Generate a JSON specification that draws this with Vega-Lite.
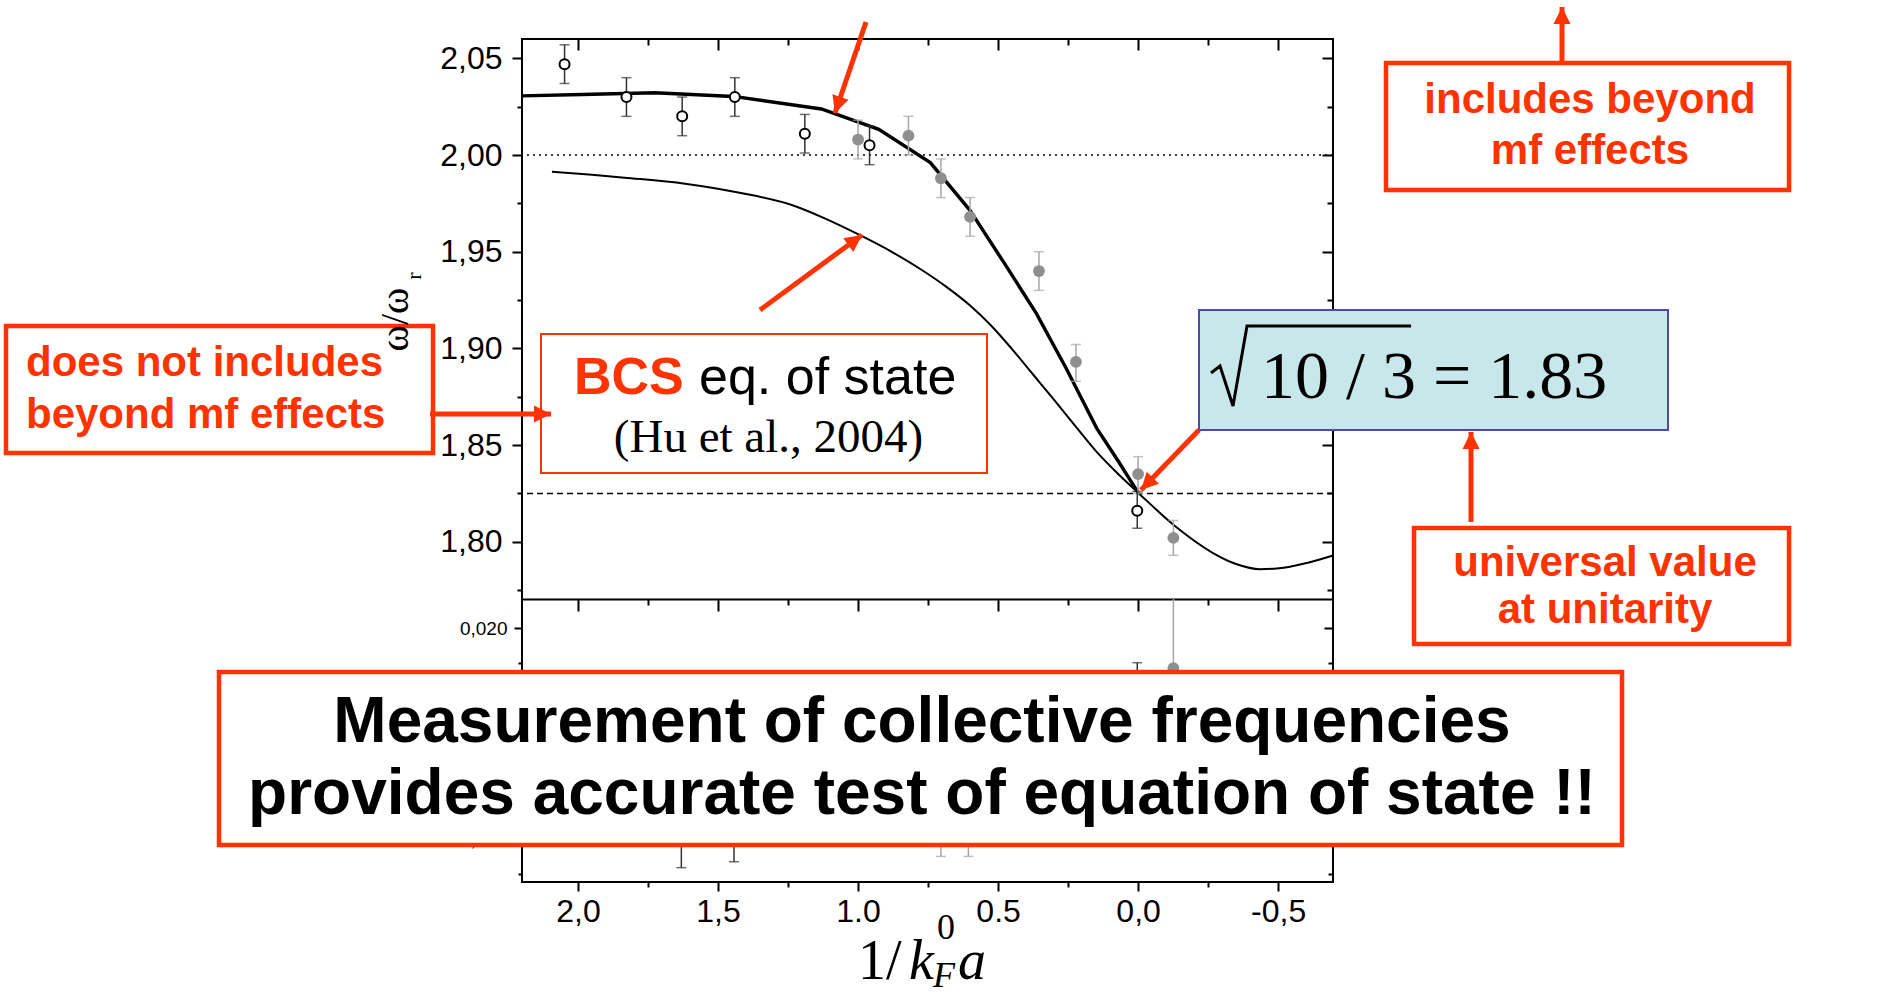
{
  "$schema": "https://vega.github.io/schema/vega-lite/v6.json",
  "width": 811,
  "height": 843,
  "autosize": {"type": "none"},
  "padding": {"left": 522, "top": 39, "right": 550, "bottom": 120},
  "background": "white",
  "config": {"view": {"stroke": "black", "strokeWidth": 2}, "axis": {"grid": false}},
  "datasets": {
    "refs": [{"y": 2.0, "kind": "dotted"}, {"y": 1.825, "kind": "dashed"}],
    "bcs": [
      {"x": 2.093, "y": 1.9914}, {"x": 1.95, "y": 1.9898}, {"x": 1.834, "y": 1.9883}, {"x": 1.618, "y": 1.9852},
      {"x": 1.423, "y": 1.9805}, {"x": 1.229, "y": 1.9738}, {"x": 1.121, "y": 1.9674}, {"x": 0.991, "y": 1.9584},
      {"x": 0.883, "y": 1.9502}, {"x": 0.775, "y": 1.9408}, {"x": 0.688, "y": 1.9322}, {"x": 0.601, "y": 1.9223},
      {"x": 0.526, "y": 1.912}, {"x": 0.451, "y": 1.8998}, {"x": 0.375, "y": 1.8865}, {"x": 0.299, "y": 1.8732},
      {"x": 0.224, "y": 1.8598}, {"x": 0.148, "y": 1.8465}, {"x": 0.072, "y": 1.8352}, {"x": 0.0, "y": 1.8254},
      {"x": -0.136, "y": 1.8076}, {"x": -0.266, "y": 1.7943}, {"x": -0.35, "y": 1.7885}, {"x": -0.435, "y": 1.7858},
      {"x": -0.52, "y": 1.7866}, {"x": -0.61, "y": 1.7893}, {"x": -0.696, "y": 1.7929}
    ],
    "qmc": [
      {"x": 2.2, "y": 2.0306}, {"x": 1.985, "y": 2.0313}, {"x": 1.726, "y": 2.0322}, {"x": 1.445, "y": 2.0303},
      {"x": 1.131, "y": 2.0238}, {"x": 0.926, "y": 2.0133}, {"x": 0.742, "y": 1.9961}, {"x": 0.601, "y": 1.9715},
      {"x": 0.472, "y": 1.9428}, {"x": 0.364, "y": 1.9182}, {"x": 0.256, "y": 1.8895}, {"x": 0.148, "y": 1.8588},
      {"x": 0.07, "y": 1.8415}, {"x": 0.0, "y": 1.8254}
    ],
    "open": [
      {"x": 2.048, "y": 2.047, "lo": 2.037, "hi": 2.057},
      {"x": 1.827, "y": 2.03, "lo": 2.02, "hi": 2.04},
      {"x": 1.628, "y": 2.02, "lo": 2.01, "hi": 2.03},
      {"x": 1.44, "y": 2.03, "lo": 2.02, "hi": 2.04},
      {"x": 1.19, "y": 2.011, "lo": 2.001, "hi": 2.021},
      {"x": 0.959, "y": 2.005, "lo": 1.995, "hi": 2.015},
      {"x": 0.003, "y": 1.816, "lo": 1.807, "hi": 1.826}
    ],
    "filled": [
      {"x": 1.0, "y": 2.008, "lo": 1.998, "hi": 2.018},
      {"x": 0.82, "y": 2.01, "lo": 2.0, "hi": 2.02},
      {"x": 0.704, "y": 1.988, "lo": 1.978, "hi": 1.998},
      {"x": 0.6, "y": 1.968, "lo": 1.958, "hi": 1.978},
      {"x": 0.354, "y": 1.94, "lo": 1.93, "hi": 1.95},
      {"x": 0.222, "y": 1.893, "lo": 1.883, "hi": 1.902},
      {"x": 0.0, "y": 1.835, "lo": 1.825, "hi": 1.844},
      {"x": -0.126, "y": 1.802, "lo": 1.793, "hi": 1.811}
    ],
    "lowerOpen": [
      {"x": 1.631, "y": 0.0062, "lo": 0.00297, "hi": 0.0095},
      {"x": 1.443, "y": 0.0066, "lo": 0.00339, "hi": 0.0098},
      {"x": 0.003, "y": 0.015, "lo": 0.0125, "hi": 0.01754}
    ],
    "lowerFilled": [
      {"x": 0.704, "y": 0.006, "lo": 0.00377, "hi": 0.0083},
      {"x": 0.606, "y": 0.006, "lo": 0.00377, "hi": 0.0083},
      {"x": -0.126, "y": 0.01716, "lo": 0.0084, "hi": 0.02207}
    ],
    "boxes": [
      {"x": 4.0426, "x2": 2.5178, "y": 1.91159, "y2": 1.84592, "role": "note"},
      {"x": 2.1322, "x2": 0.5395, "y": 1.90746, "y2": 1.83558, "role": "source"},
      {"x": -0.2175, "x2": -1.8923, "y": 1.91987, "y2": 1.85781, "role": "formula"},
      {"x": -0.8853, "x2": -2.3244, "y": 2.04759, "y2": 1.98192, "role": "note"},
      {"x": -0.9853, "x2": -2.3244, "y": 1.80714, "y2": 1.74715, "role": "note"},
      {"x": 3.282, "x2": -1.728, "y": 1.73268, "y2": 1.64322, "role": "note"}
    ],
    "arrows": [
      {"x": 0.9716, "y": 2.06879, "x2": 1.0823, "y2": 2.02173},
      {"x": 1.3501, "y": 1.91987, "x2": 0.9859, "y2": 1.95865},
      {"x": 2.5285, "y": 1.86609, "x2": 2.0964, "y2": 1.86609},
      {"x": -0.2175, "y": 1.85781, "x2": -0.0104, "y2": 1.82679},
      {"x": -1.1888, "y": 1.81024, "x2": -1.1888, "y2": 1.85678},
      {"x": -1.5138, "y": 2.04811, "x2": -1.5138, "y2": 2.07655}
    ],
    "radical": [
      {"step": 1, "x": -0.2604, "y": 1.88729},
      {"step": 2, "x": -0.2925, "y": 1.89091},
      {"step": 3, "x": -0.3389, "y": 1.87022},
      {"step": 4, "x": -0.3889, "y": 1.91159},
      {"step": 5, "x": -0.9746, "y": 1.91159}
    ],
    "notes": [
      {"x": 3.9712, "y": 1.88574, "text": "does not includes", "role": "noteL"},
      {"x": 3.9712, "y": 1.85885, "text": "beyond mf effects", "role": "noteL"},
      {"x": -1.6137, "y": 2.02173, "text": "includes beyond", "role": "note"},
      {"x": -1.6137, "y": 1.99536, "text": "mf effects", "role": "note"},
      {"x": -1.6673, "y": 1.78232, "text": "universal value", "role": "note"},
      {"x": -1.6673, "y": 1.75801, "text": "at unitarity", "role": "note"},
      {"x": 0.7716, "y": 1.69648, "text": "Measurement of collective frequencies", "role": "summary"},
      {"x": 0.7716, "y": 1.65925, "text": "provides accurate test of  equation of state !!", "role": "summary"},
      {"x": 2.0143, "y": 1.87643, "text": "BCS", "role": "bcs"},
      {"x": 1.5679, "y": 1.87643, "text": "eq. of state", "role": "eos"},
      {"x": 1.3198, "y": 1.84644, "text": "(Hu et al., 2004)", "role": "ref"},
      {"x": -0.4389, "y": 1.87436, "text": "10 / 3 = 1.83", "role": "formula"},
      {"x": 0.9998, "y": 1.57393, "text": "1/", "role": "xt"},
      {"x": 0.8181, "y": 1.57393, "text": "k", "role": "xti"},
      {"x": 0.6431, "y": 1.57393, "text": "a", "role": "xti"},
      {"x": 0.7181, "y": 1.59461, "text": "0", "role": "xts"},
      {"x": 0.7324, "y": 1.56979, "text": "F", "role": "xtsi"},
      {"x": 2.5857, "y": 1.93745, "text": "r", "role": "sub"}
    ]
  },
  "layer": [
    {
      "layer": [
        {
          "data": {"name": "lowerOpen"},
          "mark": {"type": "rule", "color": "#333333", "strokeWidth": 1.5},
          "encoding": {
            "x": {"field": "x", "type": "quantitative", "scale": {"domain": [-0.696, 2.2], "reverse": true, "nice": false, "zero": false},
              "axis": {"orient": "bottom", "values": [-0.5, -0.25, 0, 0.25, 0.5, 0.75, 1, 1.25, 1.5, 1.75, 2], "domain": false, "grid": false,
                "tickSize": {"condition": {"test": "abs(datum.value*2-round(datum.value*2))<1e-6", "value": 9}, "value": 5},
                "tickWidth": 2, "tickColor": "black",
                "labelExpr": "datum.value == 1 ? '1.0' : datum.value == 0.5 ? '0.5' : abs(datum.value*2-round(datum.value*2))<1e-6 ? replace(replace(format(datum.value, '.1f'), '.', ','), '−', '-') : ''",
                "labelFont": "Liberation Sans", "labelFontSize": 32, "labelColor": "black", "labelPadding": 5,
                "labelOverlap": false, "labelFlush": false, "labelBound": false, "title": null}},
            "y": {"field": "lo", "type": "quantitative", "scale": {"domain": [0.00195, 0.02207], "range": [843, 560], "nice": false, "zero": false},
              "axis": {"orient": "left", "values": [0.0025, 0.005, 0.0075, 0.01, 0.0125, 0.015, 0.0175, 0.02], "domain": false, "grid": false,
                "tickSize": {"condition": {"test": "abs(datum.value*200-round(datum.value*200))<1e-6", "value": 8}, "value": 4},
                "tickWidth": 2, "tickColor": "black",
                "labelExpr": "abs(datum.value-0.02)<1e-6 || abs(datum.value-0.005)<1e-6 ? replace(format(datum.value, '.3f'), '.', ',') : ''",
                "labelFont": "Liberation Sans", "labelFontSize": 19, "labelColor": "black", "labelPadding": 7,
                "labelOverlap": false, "labelFlush": false, "labelBound": false, "title": null}},
            "y2": {"field": "hi"}
          }
        },
        {
          "data": {"name": "lowerOpen"},
          "mark": {"type": "tick", "orient": "horizontal", "size": 10, "thickness": 1.5, "color": "#333333"},
          "encoding": {
            "x": {"field": "x", "type": "quantitative", "scale": {"domain": [-0.696, 2.2], "reverse": true, "nice": false, "zero": false},
              "axis": {"orient": "top", "offset": -560, "values": [-0.5, -0.25, 0, 0.25, 0.5, 0.75, 1, 1.25, 1.5, 1.75, 2],
                "domain": true, "domainColor": "black", "domainWidth": 2, "grid": false, "labels": false,
                "tickSize": {"condition": {"test": "abs(datum.value*2-round(datum.value*2))<1e-6", "value": -12}, "value": -6},
                "tickWidth": 2, "tickColor": "black", "title": null}},
            "y": {"field": "lo", "type": "quantitative", "scale": {"domain": [0.00195, 0.02207], "range": [843, 560], "nice": false, "zero": false},
              "axis": {"orient": "right", "values": [0.0025, 0.005, 0.0075, 0.01, 0.0125, 0.015, 0.0175, 0.02], "domain": false, "grid": false, "labels": false,
                "tickSize": {"condition": {"test": "abs(datum.value*200-round(datum.value*200))<1e-6", "value": -9}, "value": -5},
                "tickWidth": 2, "tickColor": "black", "title": null}}
          }
        },
        {
          "data": {"name": "lowerOpen"},
          "mark": {"type": "tick", "orient": "horizontal", "size": 10, "thickness": 1.5, "color": "#333333"},
          "encoding": {
            "x": {"field": "x", "type": "quantitative", "scale": {"domain": [-0.696, 2.2], "reverse": true, "nice": false, "zero": false}, "axis": null},
            "y": {"field": "hi", "type": "quantitative", "scale": {"domain": [0.00195, 0.02207], "range": [843, 560], "nice": false, "zero": false}, "axis": null}
          }
        },
        {
          "data": {"name": "lowerOpen"},
          "mark": {"type": "point", "shape": "circle", "filled": true, "fill": "white", "stroke": "black", "strokeWidth": 2, "size": 100, "opacity": 1},
          "encoding": {
            "x": {"field": "x", "type": "quantitative", "scale": {"domain": [-0.696, 2.2], "reverse": true, "nice": false, "zero": false}, "axis": null},
            "y": {"field": "y", "type": "quantitative", "scale": {"domain": [0.00195, 0.02207], "range": [843, 560], "nice": false, "zero": false}, "axis": null}
          }
        },
        {
          "data": {"name": "lowerFilled"},
          "mark": {"type": "rule", "color": "#a6a6a6", "strokeWidth": 1.5},
          "encoding": {
            "x": {"field": "x", "type": "quantitative", "scale": {"domain": [-0.696, 2.2], "reverse": true, "nice": false, "zero": false}, "axis": null},
            "y": {"field": "lo", "type": "quantitative", "scale": {"domain": [0.00195, 0.02207], "range": [843, 560], "nice": false, "zero": false}, "axis": null},
            "y2": {"field": "hi"}
          }
        },
        {
          "data": {"name": "lowerFilled"},
          "mark": {"type": "tick", "orient": "horizontal", "size": 10, "thickness": 1.5, "color": "#a6a6a6"},
          "encoding": {
            "x": {"field": "x", "type": "quantitative", "scale": {"domain": [-0.696, 2.2], "reverse": true, "nice": false, "zero": false}, "axis": null},
            "y": {"field": "lo", "type": "quantitative", "scale": {"domain": [0.00195, 0.02207], "range": [843, 560], "nice": false, "zero": false}, "axis": null}
          }
        },
        {
          "data": {"name": "lowerFilled"},
          "mark": {"type": "point", "shape": "circle", "filled": true, "color": "#8f8f8f", "size": 140, "opacity": 1},
          "encoding": {
            "x": {"field": "x", "type": "quantitative", "scale": {"domain": [-0.696, 2.2], "reverse": true, "nice": false, "zero": false}, "axis": null},
            "y": {"field": "y", "type": "quantitative", "scale": {"domain": [0.00195, 0.02207], "range": [843, 560], "nice": false, "zero": false}, "axis": null}
          }
        }
      ],
      "resolve": {"axis": {"x": "independent", "y": "independent"}}
    },
    {
      "layer": [
        {
          "data": {"name": "refs"},
          "transform": [{"filter": "datum.kind === 'dotted'"}],
          "mark": {"type": "rule", "color": "black", "strokeWidth": 1.5, "strokeDash": [2, 4]},
          "encoding": {
            "y": {"field": "y", "type": "quantitative", "scale": {"domain": [1.7704, 2.06], "range": [560, 0], "nice": false, "zero": false},
              "axis": {"orient": "left", "values": [1.775, 1.8, 1.825, 1.85, 1.875, 1.9, 1.925, 1.95, 1.975, 2.0, 2.025, 2.05], "domain": false, "grid": false,
                "tickSize": {"condition": {"test": "abs(datum.value*20-round(datum.value*20))<1e-6", "value": 10}, "value": 5},
                "tickWidth": 2, "tickColor": "black",
                "labelExpr": "abs(datum.value*20-round(datum.value*20))<1e-6 ? replace(format(datum.value, '.2f'), '.', ',') : ''",
                "labelFont": "Liberation Sans", "labelFontSize": 32, "labelColor": "black", "labelPadding": 10,
                "labelOverlap": false, "labelFlush": false, "labelBound": false,
                "title": "ω/ω", "titleFont": "Liberation Serif", "titleFontSize": 40, "titleFontWeight": "normal", "titleColor": "black",
                "titleAngle": 270, "titleX": -127, "titleAlign": "center", "titleBaseline": "middle", "zindex": 1}}
          }
        },
        {
          "data": {"name": "refs"},
          "transform": [{"filter": "datum.kind === 'dashed'"}],
          "mark": {"type": "rule", "color": "black", "strokeWidth": 1.5, "strokeDash": [6, 4]},
          "encoding": {
            "y": {"field": "y", "type": "quantitative", "scale": {"domain": [1.7704, 2.06], "range": [560, 0], "nice": false, "zero": false},
              "axis": {"orient": "right", "values": [1.775, 1.8, 1.825, 1.85, 1.875, 1.9, 1.925, 1.95, 1.975, 2.0, 2.025, 2.05], "domain": false, "grid": false, "labels": false,
                "tickSize": {"condition": {"test": "abs(datum.value*20-round(datum.value*20))<1e-6", "value": -11}, "value": -6},
                "tickWidth": 2, "tickColor": "black", "title": null}}
          }
        },
        {
          "data": {"name": "bcs"},
          "mark": {"type": "line", "interpolate": "monotone", "color": "black", "strokeWidth": 2},
          "encoding": {
            "x": {"field": "x", "type": "quantitative", "scale": {"domain": [-0.696, 2.2], "reverse": true, "nice": false, "zero": false},
              "axis": {"orient": "top", "values": [-0.5, -0.25, 0, 0.25, 0.5, 0.75, 1, 1.25, 1.5, 1.75, 2], "domain": false, "grid": false, "labels": false,
                "tickSize": {"condition": {"test": "abs(datum.value*2-round(datum.value*2))<1e-6", "value": -11}, "value": -6},
                "tickWidth": 2, "tickColor": "black", "title": null}},
            "y": {"field": "y", "type": "quantitative", "scale": {"domain": [1.7704, 2.06], "range": [560, 0], "nice": false, "zero": false}, "axis": null}
          }
        },
        {
          "data": {"name": "qmc"},
          "mark": {"type": "line", "color": "black", "strokeWidth": 3.4},
          "encoding": {
            "x": {"field": "x", "type": "quantitative", "scale": {"domain": [-0.696, 2.2], "reverse": true, "nice": false, "zero": false}, "axis": null},
            "y": {"field": "y", "type": "quantitative", "scale": {"domain": [1.7704, 2.06], "range": [560, 0], "nice": false, "zero": false}, "axis": null}
          }
        },
        {
          "data": {"name": "filled"},
          "mark": {"type": "rule", "color": "#a6a6a6", "strokeWidth": 1.5},
          "encoding": {
            "x": {"field": "x", "type": "quantitative", "scale": {"domain": [-0.696, 2.2], "reverse": true, "nice": false, "zero": false}, "axis": null},
            "y": {"field": "lo", "type": "quantitative", "scale": {"domain": [1.7704, 2.06], "range": [560, 0], "nice": false, "zero": false}, "axis": null},
            "y2": {"field": "hi"}
          }
        },
        {
          "data": {"name": "filled"},
          "mark": {"type": "tick", "orient": "horizontal", "size": 10, "thickness": 1.5, "color": "#a6a6a6"},
          "encoding": {
            "x": {"field": "x", "type": "quantitative", "scale": {"domain": [-0.696, 2.2], "reverse": true, "nice": false, "zero": false}, "axis": null},
            "y": {"field": "lo", "type": "quantitative", "scale": {"domain": [1.7704, 2.06], "range": [560, 0], "nice": false, "zero": false}, "axis": null}
          }
        },
        {
          "data": {"name": "filled"},
          "mark": {"type": "tick", "orient": "horizontal", "size": 10, "thickness": 1.5, "color": "#a6a6a6"},
          "encoding": {
            "x": {"field": "x", "type": "quantitative", "scale": {"domain": [-0.696, 2.2], "reverse": true, "nice": false, "zero": false}, "axis": null},
            "y": {"field": "hi", "type": "quantitative", "scale": {"domain": [1.7704, 2.06], "range": [560, 0], "nice": false, "zero": false}, "axis": null}
          }
        },
        {
          "data": {"name": "filled"},
          "mark": {"type": "point", "shape": "circle", "filled": true, "color": "#8f8f8f", "size": 140, "opacity": 1},
          "encoding": {
            "x": {"field": "x", "type": "quantitative", "scale": {"domain": [-0.696, 2.2], "reverse": true, "nice": false, "zero": false}, "axis": null},
            "y": {"field": "y", "type": "quantitative", "scale": {"domain": [1.7704, 2.06], "range": [560, 0], "nice": false, "zero": false}, "axis": null}
          }
        },
        {
          "data": {"name": "open"},
          "mark": {"type": "rule", "color": "#333333", "strokeWidth": 1.5},
          "encoding": {
            "x": {"field": "x", "type": "quantitative", "scale": {"domain": [-0.696, 2.2], "reverse": true, "nice": false, "zero": false}, "axis": null},
            "y": {"field": "lo", "type": "quantitative", "scale": {"domain": [1.7704, 2.06], "range": [560, 0], "nice": false, "zero": false}, "axis": null},
            "y2": {"field": "hi"}
          }
        },
        {
          "data": {"name": "open"},
          "mark": {"type": "tick", "orient": "horizontal", "size": 10, "thickness": 1.5, "color": "#333333"},
          "encoding": {
            "x": {"field": "x", "type": "quantitative", "scale": {"domain": [-0.696, 2.2], "reverse": true, "nice": false, "zero": false}, "axis": null},
            "y": {"field": "lo", "type": "quantitative", "scale": {"domain": [1.7704, 2.06], "range": [560, 0], "nice": false, "zero": false}, "axis": null}
          }
        },
        {
          "data": {"name": "open"},
          "mark": {"type": "tick", "orient": "horizontal", "size": 10, "thickness": 1.5, "color": "#333333"},
          "encoding": {
            "x": {"field": "x", "type": "quantitative", "scale": {"domain": [-0.696, 2.2], "reverse": true, "nice": false, "zero": false}, "axis": null},
            "y": {"field": "hi", "type": "quantitative", "scale": {"domain": [1.7704, 2.06], "range": [560, 0], "nice": false, "zero": false}, "axis": null}
          }
        },
        {
          "data": {"name": "open"},
          "mark": {"type": "point", "shape": "circle", "filled": true, "fill": "white", "stroke": "black", "strokeWidth": 2, "size": 100, "opacity": 1},
          "encoding": {
            "x": {"field": "x", "type": "quantitative", "scale": {"domain": [-0.696, 2.2], "reverse": true, "nice": false, "zero": false}, "axis": null},
            "y": {"field": "y", "type": "quantitative", "scale": {"domain": [1.7704, 2.06], "range": [560, 0], "nice": false, "zero": false}, "axis": null}
          }
        },
        {
          "data": {"name": "boxes"},
          "transform": [{"filter": "datum.role === 'note'"}],
          "mark": {"type": "rect", "fill": "white", "stroke": "#ff3300", "strokeWidth": 4.5},
          "encoding": {
            "x": {"field": "x", "type": "quantitative", "scale": {"domain": [-0.696, 2.2], "reverse": true, "nice": false, "zero": false}, "axis": null},
            "x2": {"field": "x2"},
            "y": {"field": "y", "type": "quantitative", "scale": {"domain": [1.7704, 2.06], "range": [560, 0], "nice": false, "zero": false}, "axis": null},
            "y2": {"field": "y2"}
          }
        },
        {
          "data": {"name": "boxes"},
          "transform": [{"filter": "datum.role === 'source'"}],
          "mark": {"type": "rect", "fill": "white", "stroke": "#ff3300", "strokeWidth": 2},
          "encoding": {
            "x": {"field": "x", "type": "quantitative", "scale": {"domain": [-0.696, 2.2], "reverse": true, "nice": false, "zero": false}, "axis": null},
            "x2": {"field": "x2"},
            "y": {"field": "y", "type": "quantitative", "scale": {"domain": [1.7704, 2.06], "range": [560, 0], "nice": false, "zero": false}, "axis": null},
            "y2": {"field": "y2"}
          }
        },
        {
          "data": {"name": "boxes"},
          "transform": [{"filter": "datum.role === 'formula'"}],
          "mark": {"type": "rect", "fill": "#c8e7ea", "stroke": "#4a4aa8", "strokeWidth": 2},
          "encoding": {
            "x": {"field": "x", "type": "quantitative", "scale": {"domain": [-0.696, 2.2], "reverse": true, "nice": false, "zero": false}, "axis": null},
            "x2": {"field": "x2"},
            "y": {"field": "y", "type": "quantitative", "scale": {"domain": [1.7704, 2.06], "range": [560, 0], "nice": false, "zero": false}, "axis": null},
            "y2": {"field": "y2"}
          }
        },
        {
          "data": {"name": "radical"},
          "mark": {"type": "line", "color": "black", "strokeWidth": 3, "strokeJoin": "miter"},
          "encoding": {
            "x": {"field": "x", "type": "quantitative", "scale": {"domain": [-0.696, 2.2], "reverse": true, "nice": false, "zero": false}, "axis": null},
            "y": {"field": "y", "type": "quantitative", "scale": {"domain": [1.7704, 2.06], "range": [560, 0], "nice": false, "zero": false}, "axis": null},
            "order": {"field": "step", "type": "quantitative"}
          }
        },
        {
          "data": {"name": "arrows"},
          "mark": {"type": "rule", "color": "#ff3300", "strokeWidth": 5},
          "encoding": {
            "x": {"field": "x", "type": "quantitative", "scale": {"domain": [-0.696, 2.2], "reverse": true, "nice": false, "zero": false}, "axis": null},
            "x2": {"field": "x2"},
            "y": {"field": "y", "type": "quantitative", "scale": {"domain": [1.7704, 2.06], "range": [560, 0], "nice": false, "zero": false}, "axis": null},
            "y2": {"field": "y2"}
          }
        },
        {
          "data": {"name": "arrows"},
          "transform": [{"calculate": "atan2((datum.x2 - datum.x) * -280.04, (datum.y2 - datum.y) * 1933.9) * 180 / PI", "as": "heading"}],
          "mark": {"type": "point", "shape": "M0,0L-0.5,1L0.5,1Z", "filled": true, "color": "#ff3300", "size": 1156, "opacity": 1, "strokeWidth": 0},
          "encoding": {
            "x": {"field": "x2", "type": "quantitative", "scale": {"domain": [-0.696, 2.2], "reverse": true, "nice": false, "zero": false}, "axis": null},
            "y": {"field": "y2", "type": "quantitative", "scale": {"domain": [1.7704, 2.06], "range": [560, 0], "nice": false, "zero": false}, "axis": null},
            "angle": {"field": "heading", "type": "quantitative", "scale": null}
          }
        },
        {
          "data": {"name": "notes"},
          "transform": [{"filter": "datum.role === 'noteL'"}],
          "mark": {"type": "text", "align": "left", "baseline": "alphabetic", "font": "Liberation Sans", "fontSize": 42, "fontWeight": "bold", "color": "#ff3300"},
          "encoding": {
            "x": {"field": "x", "type": "quantitative", "scale": {"domain": [-0.696, 2.2], "reverse": true, "nice": false, "zero": false}, "axis": null},
            "y": {"field": "y", "type": "quantitative", "scale": {"domain": [1.7704, 2.06], "range": [560, 0], "nice": false, "zero": false}, "axis": null},
            "text": {"field": "text"}
          }
        },
        {
          "data": {"name": "notes"},
          "transform": [{"filter": "datum.role === 'note'"}],
          "mark": {"type": "text", "align": "center", "baseline": "alphabetic", "font": "Liberation Sans", "fontSize": 42, "fontWeight": "bold", "color": "#ff3300"},
          "encoding": {
            "x": {"field": "x", "type": "quantitative", "scale": {"domain": [-0.696, 2.2], "reverse": true, "nice": false, "zero": false}, "axis": null},
            "y": {"field": "y", "type": "quantitative", "scale": {"domain": [1.7704, 2.06], "range": [560, 0], "nice": false, "zero": false}, "axis": null},
            "text": {"field": "text"}
          }
        },
        {
          "data": {"name": "notes"},
          "transform": [{"filter": "datum.role === 'summary'"}],
          "mark": {"type": "text", "align": "center", "baseline": "alphabetic", "font": "Liberation Sans", "fontSize": 64, "fontWeight": "bold", "color": "black"},
          "encoding": {
            "x": {"field": "x", "type": "quantitative", "scale": {"domain": [-0.696, 2.2], "reverse": true, "nice": false, "zero": false}, "axis": null},
            "y": {"field": "y", "type": "quantitative", "scale": {"domain": [1.7704, 2.06], "range": [560, 0], "nice": false, "zero": false}, "axis": null},
            "text": {"field": "text"}
          }
        },
        {
          "data": {"name": "notes"},
          "transform": [{"filter": "datum.role === 'bcs'"}],
          "mark": {"type": "text", "align": "left", "baseline": "alphabetic", "font": "Liberation Sans", "fontSize": 52, "fontWeight": "bold", "color": "#ff3300"},
          "encoding": {
            "x": {"field": "x", "type": "quantitative", "scale": {"domain": [-0.696, 2.2], "reverse": true, "nice": false, "zero": false}, "axis": null},
            "y": {"field": "y", "type": "quantitative", "scale": {"domain": [1.7704, 2.06], "range": [560, 0], "nice": false, "zero": false}, "axis": null},
            "text": {"field": "text"}
          }
        },
        {
          "data": {"name": "notes"},
          "transform": [{"filter": "datum.role === 'eos'"}],
          "mark": {"type": "text", "align": "left", "baseline": "alphabetic", "font": "Liberation Sans", "fontSize": 52, "color": "black"},
          "encoding": {
            "x": {"field": "x", "type": "quantitative", "scale": {"domain": [-0.696, 2.2], "reverse": true, "nice": false, "zero": false}, "axis": null},
            "y": {"field": "y", "type": "quantitative", "scale": {"domain": [1.7704, 2.06], "range": [560, 0], "nice": false, "zero": false}, "axis": null},
            "text": {"field": "text"}
          }
        },
        {
          "data": {"name": "notes"},
          "transform": [{"filter": "datum.role === 'ref'"}],
          "mark": {"type": "text", "align": "center", "baseline": "alphabetic", "font": "Liberation Serif", "fontSize": 47, "color": "black"},
          "encoding": {
            "x": {"field": "x", "type": "quantitative", "scale": {"domain": [-0.696, 2.2], "reverse": true, "nice": false, "zero": false}, "axis": null},
            "y": {"field": "y", "type": "quantitative", "scale": {"domain": [1.7704, 2.06], "range": [560, 0], "nice": false, "zero": false}, "axis": null},
            "text": {"field": "text"}
          }
        },
        {
          "data": {"name": "notes"},
          "transform": [{"filter": "datum.role === 'formula'"}],
          "mark": {"type": "text", "align": "left", "baseline": "alphabetic", "font": "Liberation Serif", "fontSize": 68, "color": "black"},
          "encoding": {
            "x": {"field": "x", "type": "quantitative", "scale": {"domain": [-0.696, 2.2], "reverse": true, "nice": false, "zero": false}, "axis": null},
            "y": {"field": "y", "type": "quantitative", "scale": {"domain": [1.7704, 2.06], "range": [560, 0], "nice": false, "zero": false}, "axis": null},
            "text": {"field": "text"}
          }
        },
        {
          "data": {"name": "notes"},
          "transform": [{"filter": "datum.role === 'xt'"}],
          "mark": {"type": "text", "align": "left", "baseline": "alphabetic", "font": "Liberation Serif", "fontSize": 56, "color": "black"},
          "encoding": {
            "x": {"field": "x", "type": "quantitative", "scale": {"domain": [-0.696, 2.2], "reverse": true, "nice": false, "zero": false}, "axis": null},
            "y": {"field": "y", "type": "quantitative", "scale": {"domain": [1.7704, 2.06], "range": [560, 0], "nice": false, "zero": false}, "axis": null},
            "text": {"field": "text"}
          }
        },
        {
          "data": {"name": "notes"},
          "transform": [{"filter": "datum.role === 'xti'"}],
          "mark": {"type": "text", "align": "left", "baseline": "alphabetic", "font": "Liberation Serif", "fontSize": 56, "fontStyle": "italic", "color": "black"},
          "encoding": {
            "x": {"field": "x", "type": "quantitative", "scale": {"domain": [-0.696, 2.2], "reverse": true, "nice": false, "zero": false}, "axis": null},
            "y": {"field": "y", "type": "quantitative", "scale": {"domain": [1.7704, 2.06], "range": [560, 0], "nice": false, "zero": false}, "axis": null},
            "text": {"field": "text"}
          }
        },
        {
          "data": {"name": "notes"},
          "transform": [{"filter": "datum.role === 'xts'"}],
          "mark": {"type": "text", "align": "left", "baseline": "alphabetic", "font": "Liberation Serif", "fontSize": 36, "color": "black"},
          "encoding": {
            "x": {"field": "x", "type": "quantitative", "scale": {"domain": [-0.696, 2.2], "reverse": true, "nice": false, "zero": false}, "axis": null},
            "y": {"field": "y", "type": "quantitative", "scale": {"domain": [1.7704, 2.06], "range": [560, 0], "nice": false, "zero": false}, "axis": null},
            "text": {"field": "text"}
          }
        },
        {
          "data": {"name": "notes"},
          "transform": [{"filter": "datum.role === 'xtsi'"}],
          "mark": {"type": "text", "align": "left", "baseline": "alphabetic", "font": "Liberation Serif", "fontSize": 36, "fontStyle": "italic", "color": "black"},
          "encoding": {
            "x": {"field": "x", "type": "quantitative", "scale": {"domain": [-0.696, 2.2], "reverse": true, "nice": false, "zero": false}, "axis": null},
            "y": {"field": "y", "type": "quantitative", "scale": {"domain": [1.7704, 2.06], "range": [560, 0], "nice": false, "zero": false}, "axis": null},
            "text": {"field": "text"}
          }
        },
        {
          "data": {"name": "notes"},
          "transform": [{"filter": "datum.role === 'sub'"}],
          "mark": {"type": "text", "align": "center", "baseline": "middle", "angle": 270, "font": "Liberation Serif", "fontSize": 22, "color": "black"},
          "encoding": {
            "x": {"field": "x", "type": "quantitative", "scale": {"domain": [-0.696, 2.2], "reverse": true, "nice": false, "zero": false}, "axis": null},
            "y": {"field": "y", "type": "quantitative", "scale": {"domain": [1.7704, 2.06], "range": [560, 0], "nice": false, "zero": false}, "axis": null},
            "text": {"field": "text"}
          }
        }
      ],
      "resolve": {"axis": {"x": "independent", "y": "independent"}}
    }
  ],
  "resolve": {"scale": {"y": "independent"}, "axis": {"x": "independent", "y": "independent"}}
}
